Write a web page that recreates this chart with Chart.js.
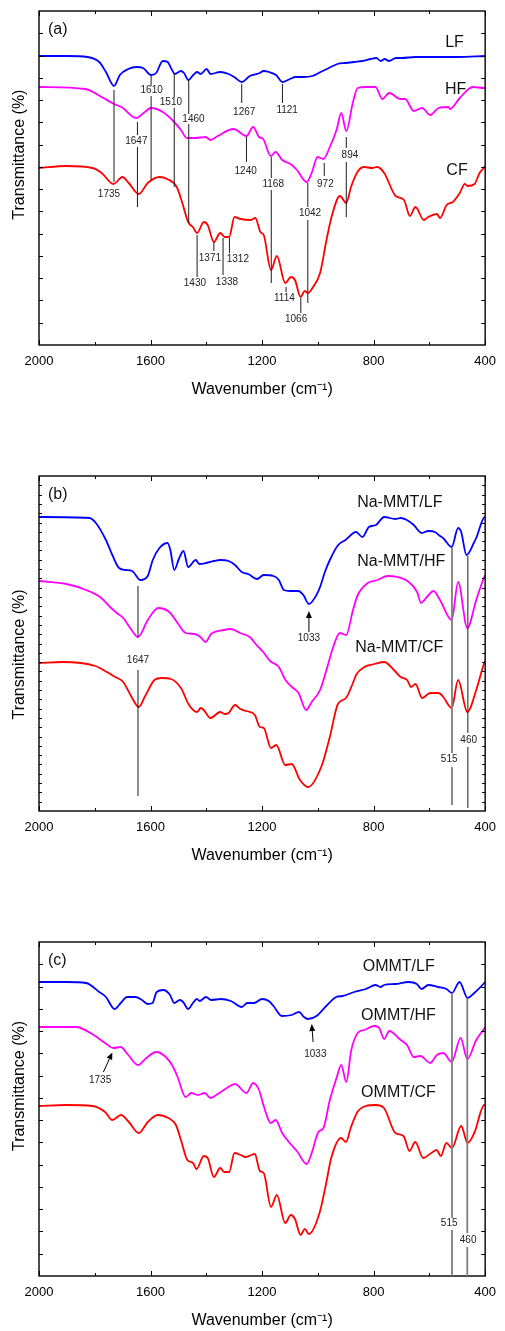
<!DOCTYPE html>
<html><head><meta charset="utf-8">
<script src="https://cdn.jsdelivr.net/npm/chart.js@4.4.0/dist/chart.umd.min.js"></script>
<style>
html,body{margin:0;padding:0;background:#fff;overflow:hidden;width:505px;height:1331px;}
canvas{position:absolute;left:0;display:block;}
</style></head><body>
<canvas id="ca" width="505" height="400" style="top:0px"></canvas>
<canvas id="cb" width="505" height="456" style="top:410px"></canvas>
<canvas id="cc" width="505" height="455" style="top:876px"></canvas>
<script>
// ---------- DATA (wavenumber cm-1, transmittance in arbitrary offset units) ----------
const xTicksMajor = [2000, 1600, 1200, 800, 400];

// Panel (a)
const aLF = [[2000,289],[1900,289],[1826,288],[1784,283],[1760,273],[1731,259],[1710,270],[1680,276],[1650,278],[1627,277],[1598,270],[1580,272],[1556,284],[1539,283],[1523,275],[1513,271],[1491,274],[1480,272],[1464,265],[1447,270],[1433,273],[1420,271],[1399,276],[1385,271],[1350,273],[1320,271],[1300,268],[1273,263],[1244,269],[1208,272],[1195,274],[1175,273],[1150,270],[1127,263],[1100,266],[1080,268],[1050,268],[1020,269],[990,273],[960,277],[930,281],[900,282],[870,283],[840,284],[810,286],[790,287],[775,284],[760,286],[745,284],[720,287],[700,287],[650,288],[600,288],[500,288],[400,289]];
const aHF = [[2000,258],[1834,256],[1775,248],[1731,241],[1704,238],[1651,227],[1625,232],[1598,237],[1556,233],[1515,223],[1491,215],[1470,207],[1440,207],[1403,208],[1385,205],[1359,209],[1303,216],[1256,209],[1232,218],[1211,208],[1196,206],[1169,189],[1151,193],[1128,185],[1098,181],[1075,175],[1040,163],[1022,172],[1001,188],[980,186],[957,198],[933,215],[916,232],[898,214],[874,243],[857,257],[828,258],[793,258],[769,246],[744,252],[704,246],[687,246],[656,234],[626,237],[597,230],[567,237],[532,238],[526,236],[491,247],[444,258],[403,257],[400,257]];
const aCF = [[2000,177],[1902,179],[1808,177],[1775,172],[1733,161],[1701,168],[1678,162],[1642,151],[1610,162],[1568,168],[1540,166],[1506,158],[1486,142],[1465,123],[1448,118],[1433,112],[1409,123],[1395,120],[1373,103],[1350,112],[1334,108],[1318,108],[1299,128],[1277,126],[1241,125],[1224,127],[1206,113],[1194,110],[1168,75],[1147,89],[1117,62],[1096,68],[1082,65],[1062,48],[1047,54],[1035,52],[1017,58],[992,72],[969,105],[949,130],[921,149],[898,142],[881,158],[858,173],[834,178],[805,177],[787,178],[762,172],[721,149],[691,145],[670,129],[650,138],[620,125],[604,128],[573,131],[562,127],[538,140],[516,143],[491,152],[473,161],[463,159],[438,161],[420,172],[402,178],[400,179]];

// Panel (b)
const bLF = [[2000,294],[1819,293],[1796,288],[1760,271],[1737,256],[1713,243],[1690,241],[1666,240],[1636,231],[1610,235],[1592,251],[1568,263],[1539,268],[1529,261],[1515,241],[1497,253],[1482,260],[1465,244],[1438,251],[1425,247],[1400,248],[1373,250],[1350,251],[1320,250],[1297,246],[1273,239],[1250,237],[1218,232],[1194,236],[1159,235],[1140,231],[1122,221],[1100,220],[1070,220],[1052,216],[1032,207],[1005,216],[992,224],[976,238],[957,251],[927,266],[901,271],[863,279],[840,274],[817,284],[792,286],[762,294],[722,292],[703,293],[681,291],[656,286],[628,278],[604,280],[580,279],[562,275],[551,273],[520,264],[497,283],[486,279],[467,256],[439,269],[432,273],[401,294],[400,294]];
const bHF = [[2000,230],[1902,227],[1831,221],[1781,214],[1745,204],[1721,198],[1698,193],[1668,181],[1645,174],[1610,191],[1572,203],[1533,199],[1503,188],[1474,178],[1442,177],[1421,174],[1403,169],[1383,177],[1338,181],[1312,182],[1279,178],[1244,174],[1220,166],[1196,159],[1171,150],[1140,144],[1116,131],[1093,124],[1069,118],[1042,101],[1022,109],[992,121],[969,141],[945,164],[921,178],[898,176],[874,201],[857,216],[821,228],[786,231],[750,235],[715,234],[674,229],[644,219],[630,208],[609,214],[585,220],[562,211],[520,191],[497,229],[464,183],[432,211],[402,235],[400,236]];
const bCF = [[2000,148],[1916,149],[1798,145],[1757,139],[1727,134],[1698,129],[1668,114],[1642,104],[1621,114],[1586,131],[1562,133],[1527,132],[1491,123],[1462,106],[1433,99],[1420,103],[1409,101],[1385,93],[1350,99],[1334,97],[1320,98],[1297,106],[1278,102],[1256,100],[1226,96],[1208,84],[1194,83],[1168,63],[1149,66],[1117,46],[1094,47],[1064,31],[1035,24],[988,44],[958,73],[928,107],[899,113],[870,131],[863,136],[833,144],[797,147],[762,149],[727,141],[703,134],[680,131],[665,124],[650,127],[626,113],[597,118],[567,118],[550,114],[520,103],[497,131],[464,99],[432,121],[402,149],[400,150]];

// Panel (c)
const cLF = [[2000,294],[1902,294],[1831,293],[1784,284],[1760,279],[1729,267],[1707,273],[1684,279],[1654,279],[1631,276],[1610,272],[1593,273],[1578,284],[1554,286],[1530,281],[1515,273],[1495,276],[1483,274],[1465,267],[1448,273],[1434,277],[1424,275],[1401,279],[1383,276],[1348,277],[1312,275],[1273,269],[1253,273],[1229,273],[1200,277],[1176,275],[1159,270],[1129,260],[1094,261],[1067,264],[1050,259],[1035,257],[1005,260],[970,270],[934,279],[911,280],[870,284],[828,287],[793,291],[775,289],[763,291],[722,292],[675,294],[645,292],[628,287],[604,291],[569,289],[539,287],[519,283],[492,294],[463,278],[439,283],[403,293],[400,294]];
const cHF = [[2000,249],[1867,249],[1804,241],[1763,233],[1733,228],[1707,229],[1680,221],[1645,211],[1615,218],[1580,224],[1545,219],[1519,209],[1503,199],[1474,179],[1454,183],[1430,181],[1406,183],[1385,178],[1359,182],[1326,188],[1297,192],[1256,183],[1232,193],[1211,186],[1193,169],[1169,153],[1151,156],[1128,143],[1104,134],[1075,125],[1040,112],[1022,123],[998,144],[980,148],[957,176],[933,198],[916,211],[898,194],[880,226],[857,243],[833,246],[797,250],[780,248],[762,237],[744,245],[703,236],[680,231],[656,219],[632,220],[597,213],[573,221],[550,223],[520,214],[488,238],[464,217],[432,236],[402,248],[400,249]];
const cCF = [[2000,170],[1902,171],[1808,170],[1763,164],[1737,156],[1706,161],[1678,154],[1642,143],[1610,154],[1574,161],[1536,158],[1509,151],[1491,136],[1468,116],[1448,113],[1435,107],[1409,120],[1395,118],[1373,99],[1350,108],[1336,104],[1318,104],[1299,123],[1277,121],[1259,119],[1226,122],[1208,105],[1194,103],[1168,69],[1147,81],[1117,53],[1097,61],[1082,57],[1062,41],[1047,47],[1032,42],[994,63],[970,93],[952,118],[917,138],[899,134],[881,149],[858,164],[828,170],[793,171],[763,168],[722,143],[693,140],[671,125],[651,134],[622,118],[598,122],[574,126],[559,120],[539,133],[519,128],[486,150],[463,133],[439,143],[403,171],[400,171]];

const namesA = ['LF', 'HF', 'CF'];
const namesB = ['Na-MMT/LF', 'Na-MMT/HF', 'Na-MMT/CF'];
const namesC = ['OMMT/LF', 'OMMT/HF', 'OMMT/CF'];

// peak marker labels
const peaksA = ['1735','1610','1510','1460','1647','1267','1121','1240','1168','972','894','1042','1430','1371','1338','1312','1114','1066'];
const peaksB = ['1647','515','460','1033'];
const peaksC = ['515','460','1735','1033'];

// ---------- LAYOUT ----------
const FONT = "'Liberation Sans', Arial, Helvetica, sans-serif";
Chart.defaults.font.family = FONT;
const COLORS = ['#0000ff', '#ff00ff', '#ff0000'];

const layoutA = {
  letter: '(a)', yMax: 334, yDiv: 15, yTick: 4, yTitleY: 143.6, padTop: 11,
  names: [[510, 302.5], [506, 255.5], [501, 174]],
  lines: [
    {lx:1731, segs:[[255,163]], tx:1749, ty:151},
    {lx:1598, segs:[[269,259],[249,165]], tx:1596, ty:254.5},
    {lx:1515, segs:[[272,248],[237,158]], tx:1527, ty:243},
    {lx:1463, segs:[[265,231],[221,122]], tx:1446, ty:226},
    {lx:1647, segs:[[223,210],[198,138]], tx:1651, ty:204},
    {lx:1273, segs:[[261,242]], tx:1264, ty:232.5},
    {lx:1127, segs:[[261,242]], tx:1110, ty:234.7},
    {lx:1256, segs:[[208,183]], tx:1259, ty:174.2},
    {lx:1167, segs:[[188,167],[155,62]], tx:1160, ty:161},
    {lx:977,  segs:[[182,169]], tx:973, ty:160.5},
    {lx:898,  segs:[[208,197],[183,128]], tx:885, ty:189.5},
    {lx:1036, segs:[[162,138],[125,42]], tx:1028, ty:131.7},
    {lx:1433, segs:[[110,68]], tx:1441, ty:61.7},
    {lx:1373, segs:[[103,94]], tx:1387, ty:87.2},
    {lx:1340, segs:[[107,70]], tx:1326, ty:63.2},
    {lx:1317, segs:[[107,92]], tx:1287, ty:85.8},
    {lx:1114, segs:[[58,53]], tx:1120, ty:46.8},
    {lx:1061, segs:[[47,32]], tx:1078, ty:26}
  ],
  arrows: []
};
const layoutB = {
  letter: '(b)', yMax: 335, yDiv: 36, yTick: 3, yTitleY: 178.5, padTop: 66,
  names: [[706, 308.5], [701, 249.5], [708, 163]],
  lines: [
    {lx:1645, segs:[[225,174],[141,15]], tx:1645, ty:150.5},
    {lx:519, segs:[[263,58],[44,6]], tx:529, ty:51.5, gray:true},
    {lx:462, segs:[[255,78],[64,3]], tx:459, ty:71}
  ],
  arrows: [ {x1:1032, y1:179, x2:1032, y2:200, tx:1032, ty:172.5} ]
};
const layoutC = {
  letter: '(c)', yMax: 334, yDiv: 15, yTick: 4, yTitleY: 144, padTop: 66,
  names: [[710, 309.3], [711, 260], [711, 183]],
  lines: [
    {lx:519, segs:[[283,58],[46,0]], tx:529, ty:52.7, gray:true},
    {lx:464, segs:[[278,43],[29,0]], tx:461, ty:36, gray:true}
  ],
  arrows: [
    {x1:1769, y1:204, x2:1737, y2:223.5, tx:1781, ty:195.3},
    {x1:1017, y1:234, x2:1022, y2:252, tx:1009, ty:221.5}
  ]
};

function panelPlugin(L, names, peaks) {
  return {
    id: 'panelDeco',
    afterDraw(chart) {
      const {ctx, chartArea: ca, scales: {x, y}} = chart;
      ctx.save();
      // frame
      ctx.strokeStyle = '#000'; ctx.lineWidth = 1.4;
      ctx.strokeRect(ca.left, ca.top, ca.right - ca.left, ca.bottom - ca.top);
      // inward ticks
      ctx.lineWidth = 1; ctx.beginPath();
      for (let v = 400; v <= 2000; v += 200) {
        const px = Math.round(x.getPixelForValue(v)) + 0.5;
        const len = xTicksMajor.includes(v) ? 5 : 3;
        ctx.moveTo(px, ca.bottom); ctx.lineTo(px, ca.bottom - len);
        ctx.moveTo(px, ca.top); ctx.lineTo(px, ca.top + len);
      }
      for (let k = 1; k < L.yDiv; k++) {
        const py = Math.round(y.getPixelForValue(k * L.yMax / L.yDiv)) + 0.5;
        ctx.moveTo(ca.left, py); ctx.lineTo(ca.left + L.yTick, py);
        ctx.moveTo(ca.right, py); ctx.lineTo(ca.right - L.yTick, py);
      }
      ctx.stroke();

      // peak lines + labels
      ctx.font = '10px ' + FONT; ctx.textAlign = 'center'; ctx.textBaseline = 'middle';
      let pi = 0;
      L.lines.forEach(a => {
        const px = x.getPixelForValue(a.lx);
        ctx.strokeStyle = a.gray ? '#7d7d7d' : '#1c1c1c';
        ctx.lineWidth = a.gray ? 1.8 : 1;
        ctx.beginPath();
        a.segs.forEach(s => { ctx.moveTo(px, y.getPixelForValue(s[0])); ctx.lineTo(px, y.getPixelForValue(s[1])); });
        ctx.stroke();
        ctx.fillStyle = '#222';
        ctx.fillText(peaks[pi++], x.getPixelForValue(a.tx), y.getPixelForValue(a.ty));
      });
      L.arrows.forEach(a => {
        const x1 = x.getPixelForValue(a.x1), y1 = y.getPixelForValue(a.y1);
        const x2 = x.getPixelForValue(a.x2), y2 = y.getPixelForValue(a.y2);
        const ang = Math.atan2(y2 - y1, x2 - x1);
        const hl = 7, hw = 3;
        const bx = x2 - hl * Math.cos(ang), by = y2 - hl * Math.sin(ang);
        ctx.strokeStyle = '#000'; ctx.lineWidth = 1;
        ctx.beginPath(); ctx.moveTo(x1, y1); ctx.lineTo(bx, by); ctx.stroke();
        ctx.fillStyle = '#000'; ctx.beginPath();
        ctx.moveTo(x2, y2);
        ctx.lineTo(bx + hw * Math.sin(ang), by - hw * Math.cos(ang));
        ctx.lineTo(bx - hw * Math.sin(ang), by + hw * Math.cos(ang));
        ctx.closePath(); ctx.fill();
        ctx.fillStyle = '#222';
        ctx.fillText(peaks[pi++], x.getPixelForValue(a.tx), y.getPixelForValue(a.ty));
      });

      // series names
      ctx.font = '16px ' + FONT; ctx.fillStyle = '#111';
      names.forEach((n, i) => {
        ctx.fillText(n, x.getPixelForValue(L.names[i][0]), y.getPixelForValue(L.names[i][1]));
      });
      // panel letter
      ctx.textAlign = 'left';
      ctx.fillText(L.letter, ca.left + 9, ca.top + 19);
      // y title
      ctx.save();
      ctx.translate(19.5, ca.top + L.yTitleY);
      ctx.rotate(-Math.PI / 2);
      ctx.textAlign = 'center'; ctx.fillStyle = '#000';
      ctx.fillText('Transmittance (%)', 0, 0);
      ctx.restore();
      ctx.restore();
    }
  };
}

function makeChart(id, series, names, L, peaks) {
  return new Chart(document.getElementById(id), {
    type: 'line',
    data: {
      datasets: series.map((s, i) => ({
        label: names[i],
        data: s.map(p => ({x: p[0], y: p[1]})),
        borderColor: COLORS[i], borderWidth: 1.8,
        pointRadius: 0, fill: false,
        cubicInterpolationMode: 'monotone'
      }))
    },
    options: {
      responsive: false, animation: false, events: [],
      layout: {padding: {top: L.padTop, right: 14, left: 0, bottom: 0}},
      plugins: {legend: {display: false}, tooltip: {enabled: false}},
      scales: {
        x: {
          type: 'linear', reverse: true, min: 400, max: 2000,
          grid: {display: false, drawTicks: false}, border: {display: false},
          ticks: {
            stepSize: 200, autoSkip: false, maxRotation: 0, padding: 9,
            color: '#000', font: {size: 13, family: FONT},
            callback: v => xTicksMajor.includes(v) ? String(v) : ''
          },
          title: {display: true, text: 'Wavenumber (cm\u207B\u00B9)', color: '#000',
                  font: {size: 16, family: FONT}, padding: {top: 0, bottom: 1}},
          afterFit: s => { s.height = 55; }
        },
        y: {
          min: 0, max: L.yMax,
          grid: {display: false, drawTicks: false}, border: {display: false},
          ticks: {display: false},
          afterFit: s => { s.width = 39; }
        }
      }
    },
    plugins: [panelPlugin(L, names, peaks)]
  });
}

makeChart('ca', [aLF, aHF, aCF], namesA, layoutA, peaksA);
makeChart('cb', [bLF, bHF, bCF], namesB, layoutB, peaksB);
makeChart('cc', [cLF, cHF, cCF], namesC, layoutC, peaksC);
</script>
</body></html>
